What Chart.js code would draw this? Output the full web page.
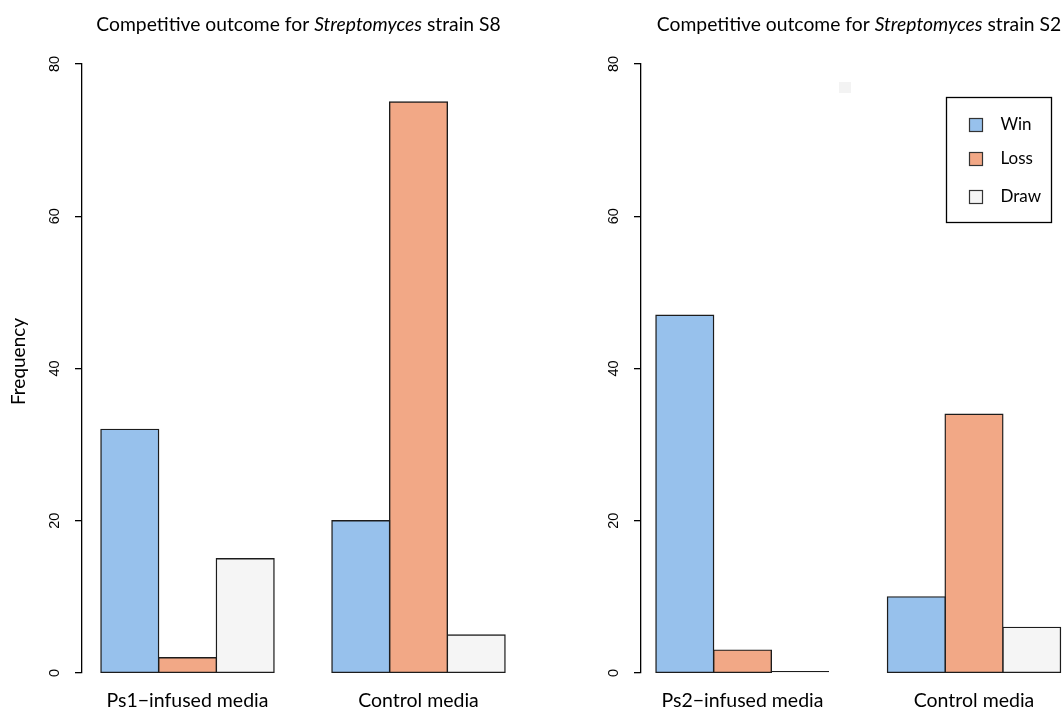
<!DOCTYPE html>
<html>
<head>
<meta charset="utf-8">
<script src="https://cdn.jsdelivr.net/npm/chart.js@4"></script>
<style>
  html, body { margin: 0; padding: 0; background: #ffffff; }
  #wrap { position: relative; width: 1063px; height: 713px; overflow: hidden; background: #ffffff; }
  #wrap canvas { position: absolute; top: 0; }
</style>
</head>
<body>
<div id="wrap">
  <canvas id="panelS8" width="540" height="713" style="left:0px"></canvas>
  <canvas id="panelS2" width="523" height="713" style="left:540px"></canvas>
</div>
<script>
// ---- data ----
const outcomes = ['Win', 'Loss', 'Draw'];
const outcomeColors = ['#97c1ec', '#f2a886', '#f5f5f5'];

const s8Media = ['Ps1\u2212infused media', 'Control media'];
const s8Win  = [32, 20];
const s8Loss = [2, 75];
const s8Draw = [15, 5];

const s2Media = ['Ps2\u2212infused media', 'Control media'];
const s2Win  = [47, 10];
const s2Loss = [3, 34];
const s2Draw = [0, 6];

const freqTicks = [0, 20, 40, 60, 80];

// ---- styling ----
const TEXT_FONT = 'Lato, "Open Sans", sans-serif';
const NUM_FONT = '"Liberation Sans", Arial, sans-serif';
const BORDER = '#1c1c1c';

function drawTitle(ctx, strain, cx, baseline) {
  const parts = [
    ['Competitive outcome for ', false],
    ['Streptomyces', true],
    [' strain ' + strain, false]
  ];
  const size = 19.3;
  ctx.save();
  ctx.fillStyle = '#000';
  ctx.textBaseline = 'alphabetic';
  ctx.textAlign = 'left';
  let total = 0;
  const widths = parts.map(([t, it]) => {
    ctx.font = (it ? 'italic ' : '') + size + 'px ' + TEXT_FONT;
    const w = ctx.measureText(t).width;
    total += w;
    return w;
  });
  let x = cx - total / 2;
  parts.forEach(([t, it], i) => {
    ctx.font = (it ? 'italic ' : '') + size + 'px ' + TEXT_FONT;
    ctx.fillText(t, x, baseline);
    x += widths[i];
  });
  ctx.restore();
}

function drawYTitle(ctx, text, x, cy) {
  ctx.save();
  ctx.translate(x, cy);
  ctx.rotate(-Math.PI / 2);
  ctx.fillStyle = '#000';
  ctx.font = '19px ' + TEXT_FONT;
  ctx.textAlign = 'center';
  ctx.textBaseline = 'alphabetic';
  ctx.fillText(text, 0, 0);
  ctx.restore();
}

function drawLegend(ctx, box) {
  ctx.save();
  ctx.strokeStyle = '#000';
  ctx.lineWidth = 1.3;
  ctx.strokeRect(box.x, box.y, box.w, box.h);
  ctx.font = '17px ' + TEXT_FONT;
  ctx.textBaseline = 'middle';
  ctx.textAlign = 'left';
  outcomes.forEach((name, k) => {
    const cy = box.rows[k];
    ctx.fillStyle = outcomeColors[k];
    ctx.fillRect(box.x + 23, cy - 6.5, 13, 13);
    ctx.strokeStyle = '#333';
    ctx.lineWidth = 1.2;
    ctx.strokeRect(box.x + 23, cy - 6.5, 13, 13);
    ctx.fillStyle = '#000';
    ctx.fillText(name, box.x + 54, cy);
  });
  ctx.restore();
}

const isZero = c => !!(c.raw && c.raw.y === 0);

function makePanel(canvasId, p) {
  const series = [p.win, p.loss, p.draw];
  const decorations = {
    id: 'panelDecorations',
    afterDraw(chart) {
      const ctx = chart.ctx;
      drawTitle(ctx, p.strain, p.titleX, 30.5);
      if (p.yTitle) drawYTitle(ctx, p.yTitle, 25, 361.5);
      if (p.legend) drawLegend(ctx, p.legend);
      if (p.patch) {
        ctx.save();
        ctx.fillStyle = '#f3f3f3';
        ctx.fillRect(p.patch.x, p.patch.y, p.patch.w, p.patch.h);
        ctx.restore();
      }
    }
  };

  return new Chart(document.getElementById(canvasId), {
    type: 'bar',
    data: {
      datasets: outcomes.map((name, k) => ({
        label: name,
        data: series[k].map((v, i) => ({ x: i, y: v })),
        // a zero count collapses to a flat outline along the baseline
        backgroundColor: c => (isZero(c) ? BORDER : outcomeColors[k]),
        borderColor: BORDER,
        borderWidth: 1.4,
        borderSkipped: false,
        // centre the outline on the bar edge
        inflateAmount: c => (isZero(c) ? 0 : 0.7),
        minBarLength: 2,
        barThickness: 57.7,
        clip: 4
      }))
    },
    options: {
      responsive: false,
      animation: false,
      devicePixelRatio: 1,
      layout: { padding: { top: 64, right: 0, bottom: 0, left: 0 } },
      plugins: {
        legend: { display: false },
        tooltip: { enabled: false },
        title: { display: false }
      },
      scales: {
        x: {
          type: 'linear',
          offset: false,
          min: p.xMin,
          max: p.xMax,
          bounds: 'data',
          grid: { display: false, drawTicks: false, offset: false },
          border: { display: false },
          afterBuildTicks: s => { s.ticks = p.media.map((_, i) => ({ value: i })); },
          afterFit: s => { s.height = 40; },
          ticks: {
            autoSkip: false,
            minRotation: 0,
            maxRotation: 0,
            padding: 16,
            color: '#000',
            font: { family: TEXT_FONT, size: 19.5 },
            callback: v => p.media[Math.round(v)]
          }
        },
        y: {
          min: 0,
          max: 80,
          afterBuildTicks: s => { s.ticks = freqTicks.map(v => ({ value: v })); },
          afterFit: s => { s.width = p.axisWidth; },
          grid: { drawOnChartArea: false, drawTicks: true, tickLength: 7, color: '#000', lineWidth: 1.3 },
          border: { display: true, color: '#000', width: 1.3 },
          ticks: {
            minRotation: 90,
            maxRotation: 90,
            crossAlign: 'center',
            padding: 12,
            color: '#000',
            font: { family: NUM_FONT, size: 14.5 }
          }
        }
      }
    },
    plugins: [decorations]
  });
}

makePanel('panelS8', {
  media: s8Media, win: s8Win, loss: s8Loss, draw: s8Draw,
  strain: 'S8',
  axisWidth: 82,
  xMin: -0.4567, xMax: 1.526,
  titleX: 298.5,
  yTitle: 'Frequency'
});

makePanel('panelS2', {
  media: s2Media, win: s2Win, loss: s2Loss, draw: s2Draw,
  strain: 'S2',
  axisWidth: 101,
  xMin: -0.4384, xMax: 1.3844,
  titleX: 319,
  legend: { x: 406.5, y: 97.5, w: 105, h: 125, rows: [125, 159, 197] },
  patch: { x: 299, y: 82, w: 12, h: 11 }
});
</script>
</body>
</html>
